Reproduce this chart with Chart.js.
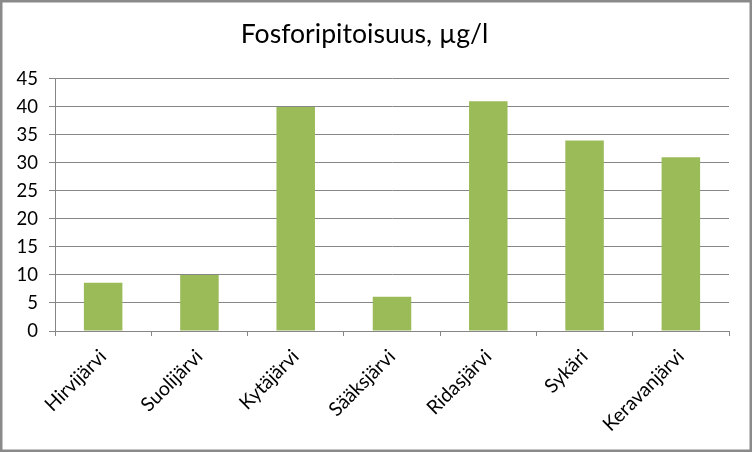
<!DOCTYPE html>
<html>
<head>
<meta charset="utf-8">
<script src="https://cdn.jsdelivr.net/npm/chart.js@4/dist/chart.umd.min.js"></script>
<style>
  html, body { margin: 0; padding: 0; background: #fff; }
  #wrap { position: relative; width: 752px; height: 452px; }
</style>
</head>
<body>
<div id="wrap"><canvas id="c" width="752" height="452"></canvas></div>
<script>
const chartTitle = 'Fosforipitoisuus, µg/l';
const categories = ['Hirvijärvi', 'Suolijärvi', 'Kytäjärvi', 'Sääksjärvi', 'Ridasjärvi', 'Sykäri', 'Keravanjärvi'];
const phosphorus = [8.6, 10, 40, 6.1, 41, 34, 31];
const yMin = 0, yMax = 45, yStep = 5;

const FONT = 'Lato, Carlito, Calibri, "Open Sans", sans-serif';
const GRID = '#868686';

const borderPlugin = {
  id: 'outerBorder',
  afterDraw(chart) {
    const ctx = chart.ctx;
    ctx.save();
    ctx.strokeStyle = '#8a8a8a';
    ctx.lineWidth = 2.5;
    ctx.strokeRect(1.25, 1.25, chart.width - 2.5, chart.height - 2.5);
    ctx.restore();
  }
};

new Chart(document.getElementById('c'), {
  type: 'bar',
  data: {
    labels: categories,
    datasets: [{
      label: chartTitle,
      data: phosphorus,
      backgroundColor: '#9BBB59',
      borderWidth: 0,
      barPercentage: 0.8,
      categoryPercentage: 0.5
    }]
  },
  options: {
    responsive: false,
    animation: false,
    devicePixelRatio: 1,
    layout: { padding: { left: 0, right: 23, top: 0, bottom: 0 } },
    plugins: {
      legend: { display: false },
      tooltip: { enabled: false },
      title: {
        display: true,
        text: chartTitle,
        color: '#000',
        font: { family: FONT, size: 26.6, weight: 'normal' },
        padding: { top: 18, bottom: 29 }
      }
    },
    scales: {
      y: {
        min: yMin,
        max: yMax,
        ticks: {
          stepSize: yStep,
          color: '#000',
          padding: 11,
          font: { family: FONT, size: 18.5 }
        },
        grid: { color: GRID, tickLength: 6, lineWidth: 1 },
        border: { color: GRID, width: 1 },
        afterFit(scale) { scale.width = 55; }
      },
      x: {
        offset: true,
        ticks: {
          color: '#000',
          minRotation: 45,
          maxRotation: 45,
          autoSkip: false,
          padding: 9,
          font: { family: FONT, size: 19.5 }
        },
        grid: { display: true, drawOnChartArea: false, drawTicks: true, tickLength: 5, color: GRID, offset: true },
        border: { color: GRID, width: 1 },
        afterFit(scale) { scale.height = 121; }
      }
    }
  },
  plugins: [borderPlugin]
});
</script>
</body>
</html>
